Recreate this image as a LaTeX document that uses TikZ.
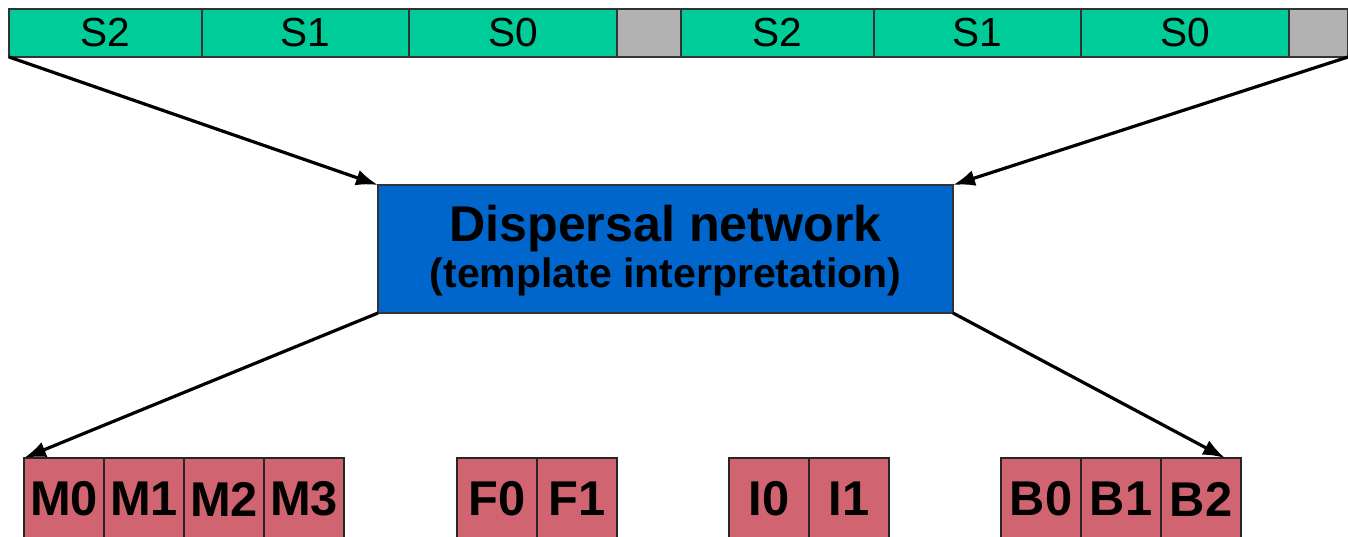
\documentclass[tikz,border=0pt]{standalone}
\usepackage{fontspec}
\setmainfont{Liberation Sans}
\usetikzlibrary{positioning,arrows.meta}

\definecolor{slotgreen}{HTML}{00CC99}
\definecolor{padgray}{HTML}{B2B2B2}
\definecolor{netblue}{HTML}{0066CC}
\definecolor{unitred}{HTML}{D06470}

\tikzset{
  scell/.style={draw=black!80,line width=0.6pt,fill=slotgreen,outer sep=0pt,inner sep=0pt,
    minimum height=24pt,text depth=1pt,font=\fontsize{20.3}{22}\selectfont},
  pcell/.style={scell,fill=padgray},
  ucell/.style={draw=black!85,line width=0.7pt,fill=unitred,outer sep=0pt,inner sep=0pt,
    minimum width=40pt,minimum height=41pt,font=\bfseries\fontsize{24.4}{26}\selectfont},
  arr/.style={line width=1.6pt,-{Latex[length=11pt,width=8pt]}}
}

\begin{document}
\begin{tikzpicture}[x=0.5pt,y=-0.5pt]
\useasboundingbox (0,0) rectangle (1348,536);
% top word
\node[scell,anchor=north west,minimum width=96.5pt] (s2a) at (9,9) {S2};
\node[scell,right=0pt of s2a,minimum width=103.5pt] (s1a) {S1};
\node[scell,right=0pt of s1a,minimum width=104pt] (s0a) {S0};
\node[pcell,right=0pt of s0a,minimum width=32pt] (pad1) {};
\node[scell,right=0pt of pad1,minimum width=96.5pt] (s2b) {S2};
\node[scell,right=0pt of s2b,minimum width=103.5pt] (s1b) {S1};
\node[scell,right=0pt of s1b,minimum width=104pt] (s0b) {S0};
\node[pcell,right=0pt of s0b,minimum width=29.5pt] (pad2) {};
% dispersal network
\node[draw=black!80,line width=0.6pt,fill=netblue,outer sep=0pt,anchor=north west,
  minimum width=287.5pt,minimum height=64pt,text depth=3pt,align=center] (net) at (378,185)
  {\bfseries\fontsize{25.1}{27}\selectfont Dispersal network\\[2pt]
   \bfseries\fontsize{20.5}{22}\selectfont (template interpretation)};
% units
\node[ucell,anchor=north west] (m0) at (24,458) {M0};
\node[ucell,right=0pt of m0] (m1) {M1};
\node[ucell,right=0pt of m1] (m2) {M2};
\node[ucell,right=0pt of m2] (m3) {M3};
\node[ucell,anchor=north west] (f0) at (457,458) {F0};
\node[ucell,right=0pt of f0] (f1) {F1};
\node[ucell,anchor=north west] (i0) at (729,458) {I0};
\node[ucell,right=0pt of i0] (i1) {I1};
\node[ucell,anchor=north west] (b0) at (1001,458) {B0};
\node[ucell,right=0pt of b0] (b1) {B1};
\node[ucell,right=0pt of b1] (b2) {B2};
% arrows
\draw[arr] (s2a.south west) -- (net.north west);
\draw[arr] (pad2.south east) -- (net.north east);
\draw[arr] (net.south west) -- (m0.north west);
\draw[arr] (net.south east) -- ([xshift=-8pt]b2.north east);
\end{tikzpicture}
\end{document}
